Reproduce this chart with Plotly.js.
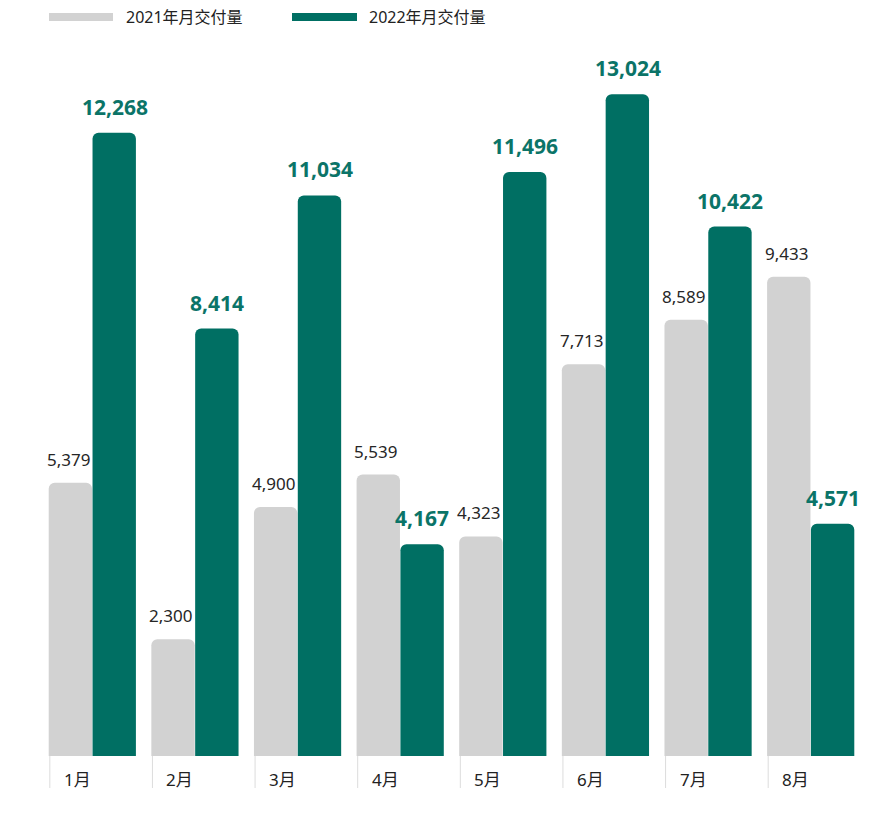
<!DOCTYPE html>
<html>
<head>
<meta charset="utf-8">
<script src="https://cdn.plot.ly/plotly-3.0.1.min.js"></script>
<style>html,body{margin:0;padding:0;background:#fff;}#chart{width:892px;height:814px;}</style>
</head>
<body>
<div id="chart"></div>
<script>
const months = ["1月","2月","3月","4月","5月","6月","7月","8月"];
const deliveries2021 = [5379, 2300, 4900, 5539, 4323, 7713, 8589, 9433];
const deliveries2022 = [12268, 8414, 11034, 4167, 11496, 13024, 10422, 4571];
const seriesNames = ["2021年月交付量", "2022年月交付量"];

const GRAY = "#d2d2d2", TEAL = "#006f63", TEAL_TXT = "#0b7468";
const FONT = "Noto Sans, Noto Sans CJK SC, sans-serif";
const W = 892, H = 814, ML = 41, MR = 30, MT = 60, MB = 58;
const PW = W - ML - MR, PH = H - MT - MB;
const px2x = p => (p - ML) / PW;
const px2y = p => (H - MB - p) / PH;
const fmt = v => v.toLocaleString("en-US");

const traces = [
  {type: "bar", name: seriesNames[0], x: months, y: deliveries2021, marker: {color: GRAY}, hoverinfo: "none"},
  {type: "bar", name: seriesNames[1], x: months, y: deliveries2022, marker: {color: TEAL}, hoverinfo: "none"}
];

const annotations = [];
const shapes = [];
const off = 0.217;
months.forEach((m, i) => {
  annotations.push({x: i - off, y: deliveries2021[i], xref: "x", yref: "y", text: fmt(deliveries2021[i]),
    showarrow: false, yanchor: "bottom", yshift: 10, xshift: -2, font: {family: FONT, size: 17, color: "#262626"}});
  annotations.push({x: i + off, y: deliveries2022[i], xref: "x", yref: "y", text: "<b>" + fmt(deliveries2022[i]) + "</b>",
    showarrow: false, yanchor: "bottom", yshift: 10, font: {family: FONT, size: 21, color: TEAL_TXT}});
  annotations.push({x: i - 0.297, y: px2y(779), xref: "x", yref: "paper", text: m, showarrow: false,
    xanchor: "left", yanchor: "middle", font: {family: FONT, size: 17, color: "#222"}});
  shapes.push({type: "line", xref: "x", yref: "paper", x0: i - 0.414, x1: i - 0.414, y0: 0, y1: px2y(788),
    line: {color: "#dcdcdc", width: 1}});
});

// custom legend
const legendItems = [
  {x0: 49, x1: 113, tx: 124, color: GRAY, name: seriesNames[0]},
  {x0: 292, x1: 357, tx: 367, color: TEAL, name: seriesNames[1]}
];
legendItems.forEach(it => {
  shapes.push({type: "rect", xref: "paper", yref: "paper", x0: px2x(it.x0), x1: px2x(it.x1),
    y0: px2y(21), y1: px2y(13), fillcolor: it.color, line: {width: 0}});
  annotations.push({xref: "paper", yref: "paper", x: px2x(it.tx), y: px2y(17), text: it.name, showarrow: false,
    xanchor: "left", yanchor: "middle", font: {family: FONT, size: 16, color: "#222"}});
});

const layout = {
  width: W, height: H,
  margin: {l: ML, r: MR, t: MT, b: MB},
  paper_bgcolor: "#fff", plot_bgcolor: "#fff",
  barmode: "group", bargap: 0.146, bargroupgap: 0.01,
  barcornerradius: 6,
  showlegend: false,
  font: {family: FONT},
  xaxis: {type: "category", showticklabels: false, showgrid: false, zeroline: false, showline: false, ticks: "", range: [-0.5, 7.5]},
  yaxis: {range: [0, 13700], visible: false, showgrid: false, zeroline: false},
  annotations: annotations,
  shapes: shapes
};

Plotly.newPlot("chart", traces, layout, {displayModeBar: false, staticPlot: true});
</script>
</body>
</html>
